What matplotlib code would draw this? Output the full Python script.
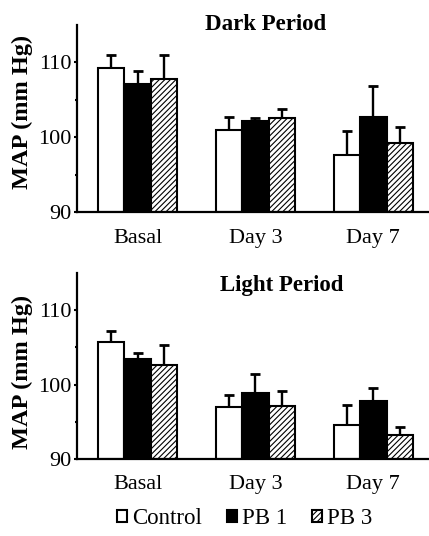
import matplotlib
matplotlib.use("Agg")
import matplotlib.pyplot as plt
import numpy as np

plt.rcParams['font.family'] = ['Liberation Serif', 'DejaVu Serif']
plt.rcParams['hatch.linewidth'] = 0.8

groups = ["Basal", "Day 3", "Day 7"]
series = ["Control", "PB 1", "PB 3"]

dark_mean = {"Control": [109.3, 100.9, 97.6],
             "PB 1":    [107.1, 102.1, 102.7],
             "PB 3":    [107.8, 102.5, 99.2]}
dark_top = {"Control": [111.0, 102.7, 100.8],
            "PB 1":    [108.8, 102.6, 106.9],
            "PB 3":    [111.0, 103.7, 101.4]}

light_mean = {"Control": [105.7, 97.0, 94.5],
              "PB 1":    [103.4, 98.8, 97.8],
              "PB 3":    [102.7, 97.1, 93.2]}
light_top = {"Control": [107.2, 98.6, 97.3],
             "PB 1":    [104.3, 101.4, 99.6],
             "PB 3":    [105.4, 99.1, 94.3]}

styles = {"Control": dict(color="white", hatch=None),
          "PB 1":    dict(color="black", hatch=None),
          "PB 3":    dict(color="white", hatch="//////")}

fig = plt.figure(figsize=(4.29, 5.36), dpi=100)
ax1 = fig.add_axes([0.1795, 0.6045, 0.8205, 0.349])
ax2 = fig.add_axes([0.1795, 0.1442, 0.8205, 0.3458])

width = 0.225
x = np.arange(len(groups))

def draw(ax, means, tops, title, tx, ty, lab_y):
    hs = []
    for i, s in enumerate(series):
        pos = x + (i - 1) * width
        m = np.array(means[s])
        t = np.array(tops[s])
        b = ax.bar(pos, m - 90, width, bottom=90, color=styles[s]["color"],
                   edgecolor="black", linewidth=1.5, hatch=styles[s]["hatch"],
                   label=s, zorder=2)
        ax.errorbar(pos, m, yerr=[np.zeros_like(m), t - m], fmt="none",
                    ecolor="black", elinewidth=1.7, capsize=3.4, capthick=2.0,
                    zorder=1)
        hs.append(b)
    ax.set_ylim(90, 115)
    ax.set_xlim(-0.515, 2.473)
    ax.set_yticks([90, 100, 110])
    ax.set_yticks([95, 105], minor=True)
    ax.set_xticks(x)
    ax.set_xticklabels(groups, fontsize=16)
    ax.tick_params(axis="x", length=0, pad=12)
    ax.tick_params(axis="y", which="major", length=2.5, width=1.5, labelsize=16, pad=1.5)
    ax.tick_params(axis="y", which="minor", length=1.5, width=1.5)
    for sp in ["top", "right"]:
        ax.spines[sp].set_visible(False)
    for sp in ["left", "bottom"]:
        ax.spines[sp].set_linewidth(1.6)
    ax.set_ylabel("MAP (mm Hg)", fontsize=17.5, fontweight="bold")
    ax.yaxis.set_label_coords(-0.125, lab_y)
    ax.text(tx, ty, title, transform=ax.transAxes, ha="center", va="center",
            fontsize=16.5, fontweight="bold")
    return hs

handles = draw(ax1, dark_mean, dark_top, "Dark Period", 0.537, 1.0, 0.536)
draw(ax2, light_mean, light_top, "Light Period", 0.581, 0.937, 0.469)

fig.legend(handles=handles, labels=series, loc="center", bbox_to_anchor=(0.57, 0.032),
           ncol=3, frameon=False, fontsize=16.5, handlelength=0.45, handleheight=0.45,
           handletextpad=0.2, columnspacing=1.1, borderpad=0)

fig.savefig("out.png", dpi=100)
